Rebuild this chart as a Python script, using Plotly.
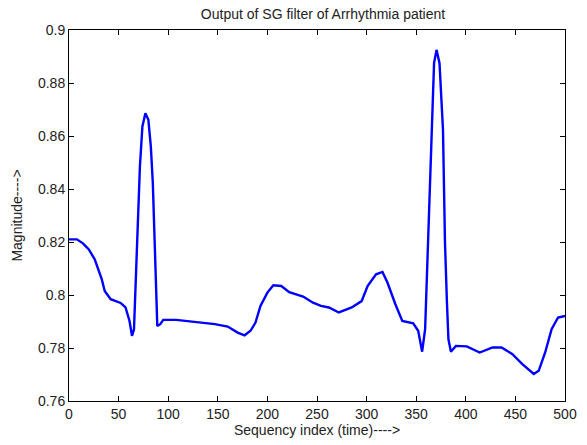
import plotly.graph_objects as go

seq_index = [0, 8, 14, 20, 26, 33, 36, 42, 52, 57, 61, 63.5, 65.5, 67, 69, 71.5, 74, 77, 80, 82.5,
             84.5, 86, 87.5, 89, 92, 95, 108, 125, 131, 147, 160, 170, 177, 183, 188, 193, 200, 206,
             214, 222, 236, 246, 254, 262, 272, 285, 295, 301, 309.5, 316, 321, 329, 336, 347, 352,
             356, 359, 362, 365.5, 368, 370.5, 373.5, 377, 379, 381, 382.5, 385, 390, 401, 414, 427,
             436, 447, 457, 468.5, 473.5, 480, 486.5, 493, 500]
magnitude = [0.821, 0.821, 0.8195, 0.8172, 0.8134, 0.8060, 0.8015, 0.7984, 0.7970, 0.7953, 0.7902,
             0.7846, 0.7870, 0.8034, 0.8273, 0.8486, 0.8636, 0.8686, 0.8661, 0.8560, 0.8423, 0.8235,
             0.8034, 0.7883, 0.7890, 0.7906, 0.7906, 0.7898, 0.7898, 0.7890, 0.7881, 0.7858, 0.7848,
             0.7865, 0.7896, 0.7959, 0.8009, 0.8037, 0.8034, 0.8011, 0.7994, 0.7971, 0.7959, 0.7953,
             0.7934, 0.7953, 0.7977, 0.8034, 0.8078, 0.8087, 0.8047, 0.7965, 0.7902, 0.7893, 0.7865,
             0.7786, 0.7871, 0.8185, 0.8624, 0.8875, 0.8925, 0.8875, 0.8624, 0.8200, 0.7971, 0.7833,
             0.7786, 0.7808, 0.7806, 0.7783, 0.7802, 0.7802, 0.7777, 0.7739, 0.7702, 0.7714, 0.7783,
             0.7871, 0.7915, 0.7921]

x_ticks = [0, 50, 100, 150, 200, 250, 300, 350, 400, 450, 500]
y_ticks = [0.76, 0.78, 0.8, 0.82, 0.84, 0.86, 0.88, 0.9]
y_tick_text = ["0.76", "0.78", "0.8", "0.82", "0.84", "0.86", "0.88", "0.9"]

FONT = "Liberation Sans, Arial, sans-serif"

fig = go.Figure()
fig.add_trace(go.Scatter(x=seq_index, y=magnitude, mode="lines",
                         line=dict(color="#0000ff", width=2.4), showlegend=False))

axis_common = dict(showline=True, linecolor="black", linewidth=1, mirror="ticks",
                   ticks="inside", ticklen=5, tickcolor="black", showgrid=False,
                   zeroline=False, ticklabeloverflow="allow",
                   tickfont=dict(family=FONT, size=14, color="#222"))

fig.update_layout(
    width=587, height=445,
    margin=dict(l=69, r=10, t=30, b=43),
    paper_bgcolor="white", plot_bgcolor="white",
    title=dict(text="Output of SG filter of Arrhythmia patient",
               font=dict(family=FONT, size=14, color="#222"),
               x=(69 + 577) / 2 / 587, xanchor="center", xref="container",
               y=1 - 14 / 445, yanchor="middle", yref="container"),
    xaxis=dict(range=[0, 500], tickvals=x_ticks,
               title=dict(text="Sequency index (time)---->",
                          font=dict(family=FONT, size=14, color="#222"), standoff=3),
               **axis_common),
    yaxis=dict(range=[0.76, 0.9], tickvals=y_ticks, ticktext=y_tick_text,
               title=dict(text="Magnitude---->",
                          font=dict(family=FONT, size=14, color="#222"), standoff=12),
               **axis_common),
)

fig.write_html("out.html")
